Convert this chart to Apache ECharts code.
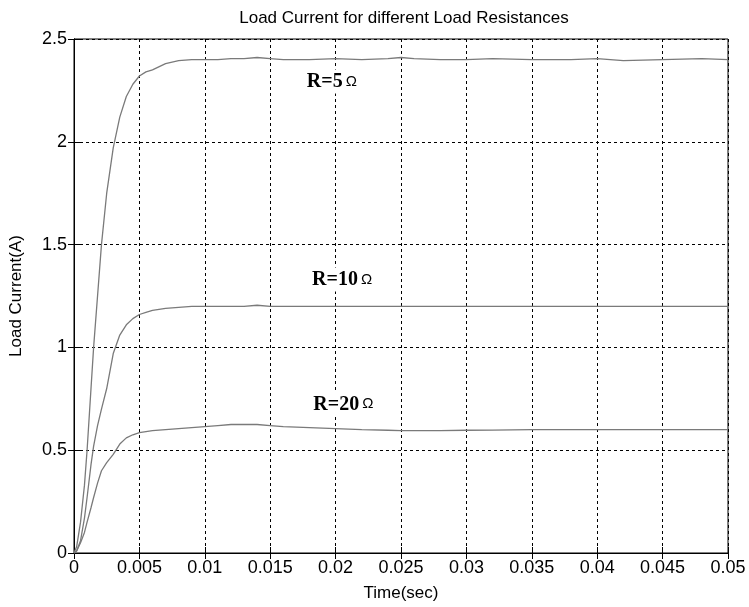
<!DOCTYPE html>
<html>
<head>
<meta charset="utf-8">
<script src="https://cdn.jsdelivr.net/npm/echarts@6/dist/echarts.min.js"></script>
<style>
  html, body { margin: 0; padding: 0; background: #fff; }
  #chart { width: 749px; height: 607px; }
</style>
</head>
<body>
<div id="chart"></div>
<script>
// Sample times (s)
const time = [0, 0.0002, 0.0005, 0.0008, 0.001, 0.0013, 0.0015, 0.0018, 0.0021, 0.0025,
  0.003, 0.0035, 0.004, 0.0045, 0.005, 0.0055, 0.006, 0.007, 0.008, 0.009,
  0.01, 0.011, 0.012, 0.013, 0.014, 0.015, 0.016, 0.018, 0.02, 0.022,
  0.024, 0.025, 0.026, 0.028, 0.03, 0.032, 0.035, 0.038, 0.04, 0.042,
  0.045, 0.048, 0.05];

// Load current (A) for each load resistance
const current5 = [0, 0.03, 0.15, 0.33, 0.5, 0.8, 1.0, 1.25, 1.5, 1.75,
  1.97, 2.12, 2.22, 2.28, 2.32, 2.34, 2.35, 2.38, 2.395, 2.40,
  2.40, 2.40, 2.405, 2.405, 2.41, 2.405, 2.40, 2.40, 2.405, 2.40,
  2.405, 2.41, 2.405, 2.40, 2.40, 2.405, 2.40, 2.40, 2.405, 2.395,
  2.40, 2.405, 2.40];
const current10 = [0, 0.01, 0.06, 0.17, 0.27, 0.43, 0.52, 0.62, 0.70, 0.80,
  0.97, 1.06, 1.11, 1.14, 1.16, 1.17, 1.18, 1.19, 1.195, 1.20,
  1.20, 1.20, 1.20, 1.20, 1.205, 1.20, 1.20, 1.20, 1.20, 1.20,
  1.20, 1.20, 1.20, 1.20, 1.20, 1.20, 1.20, 1.20, 1.20, 1.20,
  1.20, 1.20, 1.20];
const current20 = [0, 0.01, 0.05, 0.10, 0.15, 0.22, 0.27, 0.34, 0.40, 0.44,
  0.48, 0.53, 0.56, 0.575, 0.585, 0.59, 0.595, 0.60, 0.605, 0.61,
  0.615, 0.62, 0.625, 0.625, 0.625, 0.62, 0.615, 0.61, 0.605, 0.60,
  0.597, 0.595, 0.595, 0.595, 0.597, 0.598, 0.60, 0.60, 0.60, 0.60,
  0.60, 0.60, 0.60];

// Curve annotations: [text, time, current] anchor of the label's left edge
const curveLabels = [
  ['R=5', 0.0178, 2.293],
  ['R=10', 0.0182, 1.33],
  ['R=20', 0.0183, 0.723]
];

const pairs = arr => time.map((t, i) => [t, arr[i]]);
const lineColor = '#7a7a7a';
const font = 'Liberation Sans, Arial, sans-serif';

const gridLine = { show: true, lineStyle: { color: '#000', type: [3, 3], width: 1 } };

const chart = echarts.init(document.getElementById('chart'));
const option = {
  animation: false,
  backgroundColor: '#fff',
  title: {
    text: 'Load Current for different Load Resistances',
    left: 399, top: 5, textAlign: 'center',
    textStyle: { fontFamily: font, fontSize: 17, fontWeight: 'normal', color: '#000' }
  },
  grid: { left: 72, right: 21, top: 39, bottom: 53, show: true, borderColor: '#000', borderWidth: 1 },
  xAxis: [{
    type: 'value', min: 0, max: 0.05, interval: 0.005,
    name: 'Time(sec)', nameLocation: 'middle', nameGap: 32,
    nameTextStyle: { fontFamily: font, fontSize: 17, color: '#000' },
    axisLine: { show: true, lineStyle: { color: '#000' } },
    axisTick: { show: true, inside: true, length: 6, lineStyle: { color: '#000' } },
    axisLabel: { fontFamily: font, fontSize: 18, color: '#000', margin: 6,
      formatter: v => String(+v.toFixed(3)) },
    splitLine: gridLine
  }, {
    type: 'value', min: 0, max: 0.05, interval: 0.005, position: 'top',
    axisLine: { show: true, lineStyle: { color: '#000' } },
    axisTick: { show: true, inside: true, length: 6, lineStyle: { color: '#000' } },
    axisLabel: { show: false }, splitLine: { show: false }
  }],
  yAxis: [{
    type: 'value', min: 0, max: 2.5, interval: 0.5,
    name: 'Load Current(A)', nameLocation: 'middle', nameGap: 49,
    nameTextStyle: { fontFamily: font, fontSize: 17, color: '#000' },
    axisLine: { show: true, lineStyle: { color: '#000' } },
    axisTick: { show: true, inside: true, length: 6, lineStyle: { color: '#000' } },
    axisLabel: { fontFamily: font, fontSize: 18, color: '#000', margin: 7 },
    splitLine: gridLine
  }, {
    type: 'value', min: 0, max: 2.5, interval: 0.5, position: 'right',
    axisLine: { show: true, lineStyle: { color: '#000' } },
    axisTick: { show: true, inside: true, length: 6, lineStyle: { color: '#000' } },
    axisLabel: { show: false }, splitLine: { show: false }
  }],
  series: [
    { name: 'R=5', data: pairs(current5) },
    { name: 'R=10', data: pairs(current10) },
    { name: 'R=20', data: pairs(current20) }
  ].map(s => Object.assign({
    type: 'line', showSymbol: false, smooth: false, z: 3,
    lineStyle: { color: lineColor, width: 1.3 }
  }, s))
};
chart.setOption(option);

// Place curve annotations at their data positions, on a white patch over the grid
const graphics = curveLabels.map(([txt, t, v]) => {
  const p = chart.convertToPixel({ xAxisIndex: 0, yAxisIndex: 0 }, [t, v]);
  return {
    type: 'text', x: p[0], y: p[1], z: 10,
    style: {
      text: '{b|' + txt + '}{o|Ω}',
      verticalAlign: 'middle',
      backgroundColor: '#fff',
      padding: [2, 2, 2, 0],
      rich: {
        b: { fontFamily: 'Liberation Serif, Times New Roman, serif', fontSize: 20, fontWeight: 'bold', fill: '#000' },
        o: { fontFamily: font, fontSize: 15, fill: '#000', padding: [0, 0, 0, 3] }
      }
    }
  };
});
chart.setOption({ graphic: graphics });
</script>
</body>
</html>
